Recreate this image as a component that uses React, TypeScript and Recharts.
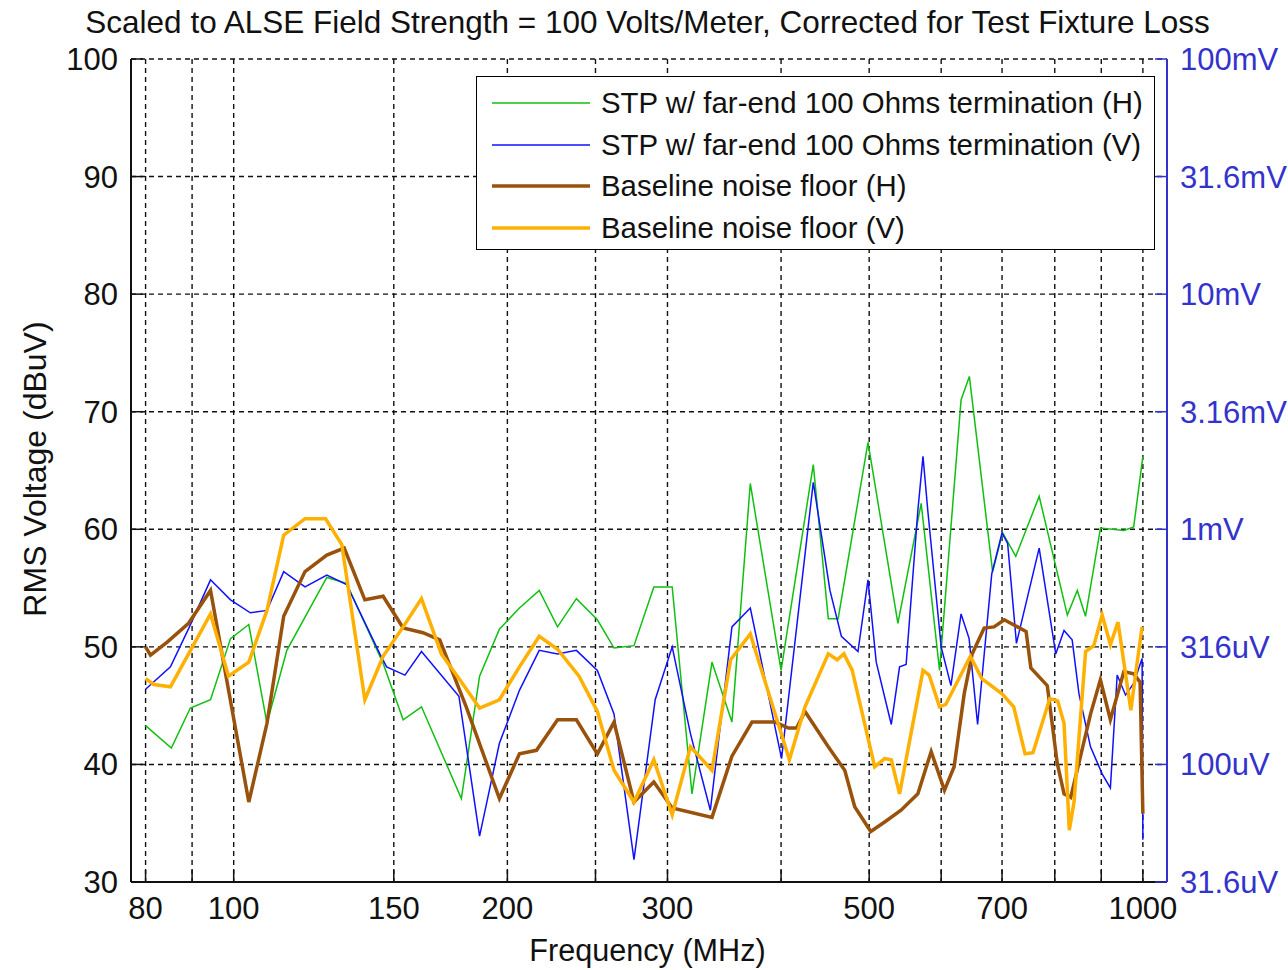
import React from 'react';
import { LineChart, Line, XAxis, YAxis, CartesianGrid, Legend } from 'recharts';

// frequency (MHz) and level (dBuV)
const stpHFreq = [80, 85.4, 89.6, 94.3, 99.2, 103.9, 108.8, 114.4, 126.6, 133.1, 146, 153.6, 160.9, 178, 186.4, 196, 206.2, 216.8, 227.1, 238.2, 251.2, 262, 275.6, 289.8, 303.6, 319.2, 335.8, 353.2, 370, 400, 434, 450.8, 462.2, 498.5, 537.7, 570.4, 597.5, 631, 644.4, 683.5, 701, 724.8, 769, 825.9, 847, 864.8, 898.2, 953, 977, 1000];
const stpHLevel = [43.3, 41.4, 44.8, 45.5, 50.7, 51.9, 43.5, 49.7, 55.9, 55.4, 48.6, 43.8, 44.9, 37.1, 47.5, 51.5, 53.3, 54.8, 51.7, 54.1, 52.3, 49.9, 50.1, 55.1, 55.1, 37.5, 48.7, 43.6, 63.9, 48.0, 65.5, 52.4, 52.4, 67.4, 52.0, 62.2, 48.0, 71.0, 73.0, 56.4, 59.7, 57.7, 62.8, 52.7, 54.8, 52.6, 60.1, 59.9, 60.2, 66.2];

const stpVFreq = [80, 85.2, 89.4, 94.3, 99.2, 104.3, 108.8, 113.5, 119.8, 126.6, 133.1, 144.8, 147.3, 154.3, 160.9, 176.9, 186.4, 196, 206.2, 216.8, 227.1, 238.2, 251.2, 262, 275.6, 290.8, 303.6, 318, 334.4, 353.2, 370, 400.5, 434, 452.7, 466, 486, 498.5, 509, 528.8, 540, 549, 565.6, 573, 580, 600, 615, 631, 644, 658, 682, 700, 710, 726, 769, 802, 819, 836, 850.6, 875.8, 902, 921, 937, 957, 977, 998, 1000];
const stpVLevel = [46.4, 48.3, 51.7, 55.7, 54.0, 52.9, 53.1, 56.4, 55.1, 56.1, 55.3, 49.4, 48.3, 47.6, 49.6, 45.8, 33.9, 41.8, 46.3, 49.7, 49.4, 49.7, 48.0, 44.3, 31.9, 45.5, 50.0, 42.6, 36.1, 51.7, 53.3, 40.5, 64.0, 54.8, 50.9, 49.6, 55.7, 48.7, 43.4, 48.3, 48.5, 61.6, 66.2, 61.6, 50.0, 46.7, 52.8, 50.7, 43.4, 56.2, 59.7, 58.8, 50.3, 58.4, 49.4, 51.4, 50.6, 46.0, 41.5, 39.2, 38.0, 47.6, 45.9, 46.9, 49.0, 33.6];

const baseHFreq = [80, 81, 84.5, 89.2, 94.3, 103.9, 108.8, 113.5, 119.8, 126.6, 132.3, 139.4, 146, 153.6, 161.5, 168.5, 180.2, 196, 206.2, 215.3, 227.1, 238.2, 251.2, 262, 275.6, 289.8, 303.6, 335.8, 353.2, 371.6, 394, 407.5, 416, 425, 450.8, 470, 482, 502, 520, 542, 565.6, 585, 605, 620, 636, 649, 669, 686, 704, 728, 744, 753, 785, 805, 819, 833, 876, 898, 921, 953, 977, 993, 1000];
const baseHLevel = [50.0, 49.3, 50.4, 52.0, 54.8, 36.8, 43.5, 52.6, 56.4, 57.8, 58.4, 54.0, 54.3, 51.6, 51.2, 50.6, 44.9, 37.1, 40.9, 41.2, 43.8, 43.8, 40.9, 43.6, 36.8, 38.5, 36.3, 35.5, 40.7, 43.6, 43.6, 43.1, 43.1, 44.5, 41.5, 39.5, 36.4, 34.3, 35.1, 36.1, 37.5, 41.1, 37.8, 39.8, 46.0, 49.4, 51.6, 51.7, 52.3, 51.7, 51.3, 48.2, 46.7, 40.1, 37.5, 37.2, 44.3, 47.2, 43.8, 47.9, 47.7, 47.0, 35.8];

const baseVFreq = [80, 81.7, 85.2, 89.2, 94.3, 98.7, 103.9, 108.8, 113.5, 119.8, 126.2, 131.5, 139.4, 146, 153.6, 160.9, 169.2, 176.9, 186.4, 196, 206.2, 216.8, 227.1, 239.8, 251.2, 262, 275.6, 289.8, 303.6, 318, 335.8, 352, 370, 408.5, 425, 450.8, 461, 469, 479, 507, 520, 528.8, 540, 573, 582, 597.5, 607, 646, 665, 700, 721, 742, 757, 790, 806, 819, 830, 840, 865, 883, 902, 921, 939, 970, 983, 998];
const baseVLevel = [47.3, 46.8, 46.6, 49.4, 52.8, 47.5, 48.7, 53.1, 59.5, 60.9, 60.9, 58.7, 45.5, 49.2, 51.7, 54.1, 49.4, 47.3, 44.8, 45.5, 48.3, 50.9, 49.8, 47.5, 44.5, 39.5, 36.8, 40.4, 35.7, 41.5, 39.5, 48.9, 51.1, 40.4, 44.9, 49.4, 48.9, 49.4, 48.0, 39.8, 40.5, 40.4, 37.5, 48.0, 47.6, 44.9, 45.1, 49.2, 47.3, 46.0, 44.9, 40.9, 41.0, 45.6, 45.4, 43.5, 34.4, 36.8, 49.6, 50.1, 52.7, 50.2, 52.1, 44.6, 48.0, 51.7];

const gridFreqs = [80, 90, 100, 150, 200, 250, 300, 400, 500, 600, 700, 800, 900, 1000];
const labelFreqs = [80, 100, 150, 200, 300, 500, 700, 1000];
const dbTicks = [30, 40, 50, 60, 70, 80, 90, 100];
const voltLabels = ['31.6uV', '100uV', '316uV', '1mV', '3.16mV', '10mV', '31.6mV', '100mV'];

const toRows = (f: number[], v: number[]) => f.map((x, i) => ({ f: x, v: v[i] }));

const series = [
  { name: 'STP w/ far-end 100 Ohms termination (H)', color: '#10c010', width: 1.5, data: toRows(stpHFreq, stpHLevel) },
  { name: 'STP w/ far-end 100 Ohms termination (V)', color: '#1010ff', width: 1.5, data: toRows(stpVFreq, stpVLevel) },
  { name: 'Baseline noise floor (H)', color: '#99520c', width: 3.5, data: toRows(baseHFreq, baseHLevel) },
  { name: 'Baseline noise floor (V)', color: '#ffb000', width: 3.5, data: toRows(baseVFreq, baseVLevel) },
];

const FONT = '"Liberation Sans", Arial, sans-serif';
const AXIS_BLUE = '#3333cc';

const LegendBox = () => (
  <div
    style={{
      width: 679,
      height: 174,
      boxSizing: 'border-box',
      border: '1.5px solid #000',
      background: '#fff',
      position: 'relative',
      fontFamily: FONT,
      fontSize: 29.4,
      color: '#111',
    }}
  >
    {series.map((s, i) => (
      <div
        key={s.name}
        style={{ position: 'absolute', left: 0, top: 11 + i * 41.5, height: 30, display: 'flex', alignItems: 'center', whiteSpace: 'nowrap' }}
      >
        <svg width={124} height={30}>
          <line x1={15} x2={113} y1={15} y2={15} stroke={s.color} strokeWidth={s.width} />
        </svg>
        <span style={{ lineHeight: '30px' }}>{s.name}</span>
      </div>
    ))}
  </div>
);

const textStyle: React.CSSProperties = {
  position: 'absolute',
  fontFamily: FONT,
  fontSize: 30,
  lineHeight: '30px',
  color: '#111',
  textAlign: 'center',
  whiteSpace: 'nowrap',
};

const App = () => {
  return (
    <div style={{ position: 'absolute', left: 0, top: 0, width: 1288, height: 970, background: '#fff' }}>
      <LineChart width={1288} height={970} margin={{ top: 59, right: 0, bottom: 0, left: 0 }}>
        <CartesianGrid stroke="#111" strokeWidth={1.4} strokeDasharray="5 4" />
        <XAxis
          type="number"
          dataKey="f"
          scale="log"
          domain={[77.1, 1063]}
          allowDataOverflow
          ticks={gridFreqs}
          interval={0}
          tickFormatter={(v: number) => (labelFreqs.includes(v) ? String(v) : '')}
          height={88}
          axisLine={{ stroke: '#111', strokeWidth: 2 }}
          tickLine={{ stroke: '#111', strokeWidth: 1.5 }}
          tickSize={-12}
          tickMargin={27}
          tick={{ fill: '#111', fontSize: 31, fontFamily: FONT }}
        />
        <XAxis
          xAxisId="top"
          orientation="top"
          type="number"
          dataKey="f"
          scale="log"
          domain={[77.1, 1063]}
          allowDataOverflow
          ticks={gridFreqs}
          interval={0}
          height={0}
          axisLine={false}
          tick={false}
          tickLine={{ stroke: '#111', strokeWidth: 1.5 }}
          tickSize={-12}
        />
        <YAxis
          type="number"
          domain={[30, 100]}
          ticks={dbTicks}
          interval={0}
          allowDataOverflow
          width={131}
          axisLine={{ stroke: '#111', strokeWidth: 2 }}
          tickLine={{ stroke: '#111', strokeWidth: 1.5 }}
          tickSize={-12}
          tickMargin={25}
          tick={{ fill: '#111', fontSize: 31, fontFamily: FONT }}
        />
        <YAxis
          yAxisId="right"
          orientation="right"
          type="number"
          domain={[30, 100]}
          ticks={dbTicks}
          interval={0}
          allowDataOverflow
          width={121}
          tickFormatter={(v: number) => voltLabels[dbTicks.indexOf(v)]}
          axisLine={{ stroke: AXIS_BLUE, strokeWidth: 2 }}
          tickLine={{ stroke: AXIS_BLUE, strokeWidth: 1.5 }}
          tickSize={-12}
          tickMargin={25}
          tick={{ fill: AXIS_BLUE, fontSize: 31, fontFamily: FONT }}
        />
        <Legend
          layout="vertical"
          align="center"
          verticalAlign="middle"
          wrapperStyle={{ left: 476, top: 76, width: 679, height: 174 }}
          content={() => <LegendBox />}
        />
        {series.map((s) => (
          <Line
            key={s.name}
            name={s.name}
            data={s.data}
            dataKey="v"
            type="linear"
            stroke={s.color}
            strokeWidth={s.width}
            dot={false}
            activeDot={false}
            isAnimationActive={false}
          />
        ))}
      </LineChart>
      <div style={{ ...textStyle, fontSize: 31.5, left: 0, top: 7, width: 1295 }}>
        Scaled to ALSE Field Strength = 100 Volts/Meter, Corrected for Test Fixture Loss
      </div>
      <div style={{ ...textStyle, fontSize: 30.6, left: 0, top: 935, width: 1295 }}>Frequency (MHz)</div>
      <div
        style={{ ...textStyle, fontSize: 32, left: 35 - 200, top: 469 - 15, width: 400, height: 30, transform: 'rotate(-90deg)' }}
      >
        RMS Voltage (dBuV)
      </div>
    </div>
  );
};

export default App;
